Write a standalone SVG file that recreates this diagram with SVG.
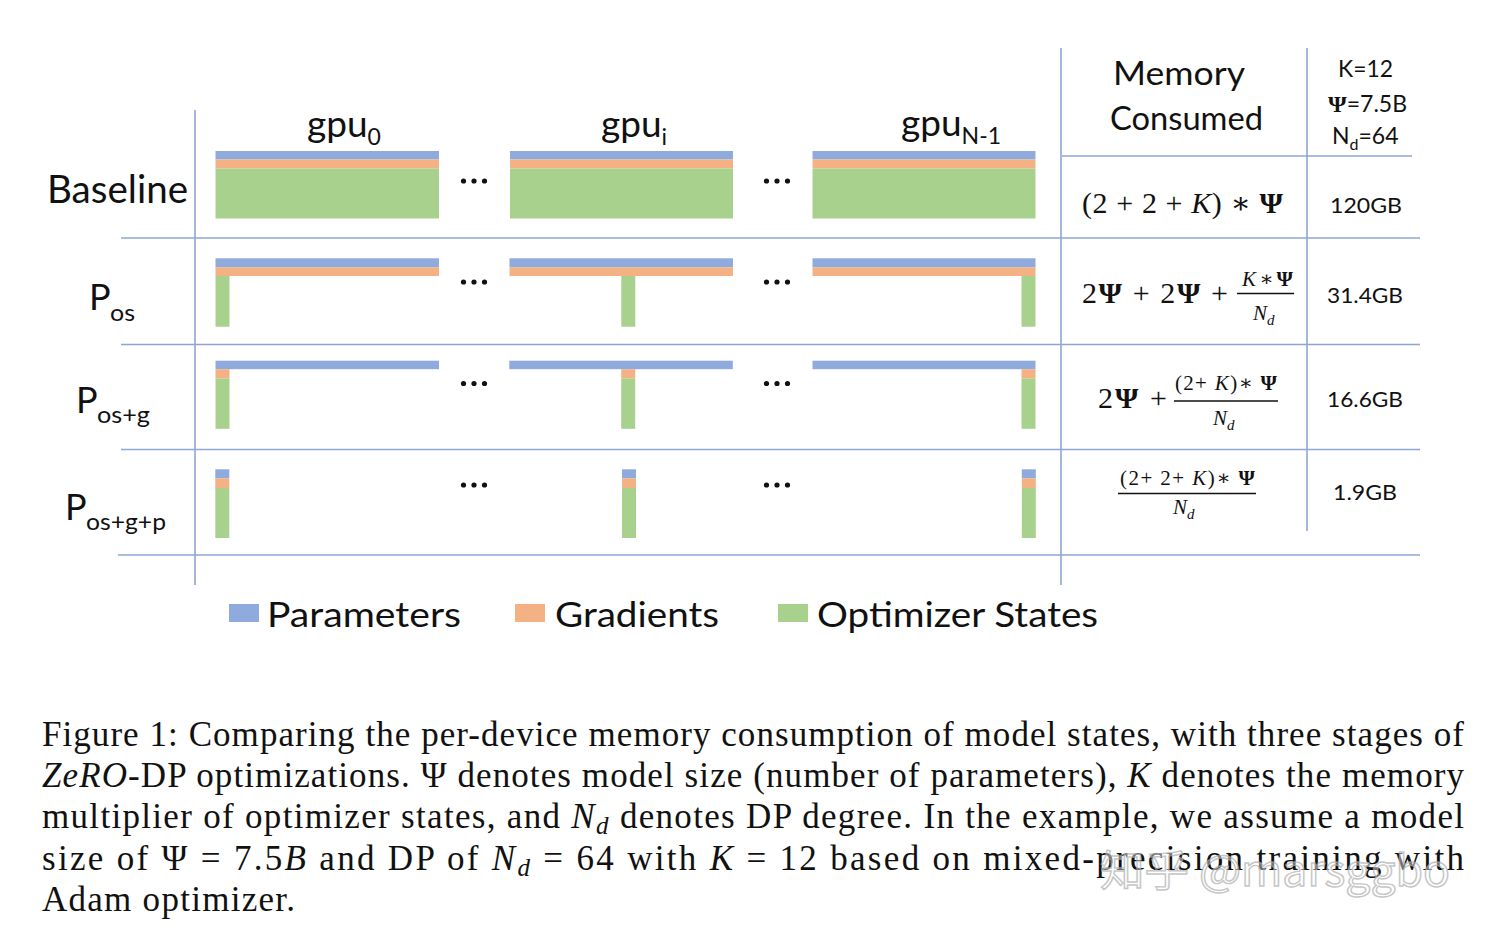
<svg xmlns="http://www.w3.org/2000/svg" width="1488" height="934" viewBox="0 0 1488 934">
<style>
.lbl{font-family:Lato,"Open Sans","Liberation Sans",sans-serif;fill:#111}
.math{font-family:"Liberation Serif","DejaVu Serif",serif;fill:#111}
.cap{font-family:"Liberation Serif","DejaVu Serif",serif;fill:#111;font-size:35px}
.it{font-style:italic}
.bf{font-weight:bold}
.pa{fill:#8FAADC}
.gr{fill:#F4B183}
.os{fill:#A9D18E}
.ln{stroke:#8EA6D4;stroke-width:1.6;fill:none}
.bar{stroke:#111;stroke-width:1.4}
.dot{fill:#111}
</style>
<rect width="1488" height="934" fill="#fff"/>

<g id="connectors">
<line class="ln" x1="195" y1="110" x2="195" y2="585"/>
<line class="ln" x1="1061" y1="48" x2="1061" y2="585"/>
<line class="ln" x1="1307" y1="48" x2="1307" y2="531"/>
<line class="ln" x1="1062" y1="156" x2="1412" y2="156"/>
<line class="ln" x1="121" y1="238" x2="1420" y2="238"/>
<line class="ln" x1="121" y1="344.5" x2="1420" y2="344.5"/>
<line class="ln" x1="121" y1="449.5" x2="1420" y2="449.5"/>
<line class="ln" x1="118" y1="555" x2="1420" y2="555"/>
</g>

<g id="headers">
<text class="lbl" x="307" y="137" font-size="37">gpu<tspan font-size="23" dy="8">0</tspan></text>
<text class="lbl" x="601" y="137" font-size="37">gpu<tspan font-size="23" dy="8">i</tspan></text>
<text class="lbl" x="901" y="136" font-size="37">gpu<tspan font-size="23" dy="8">N-1</tspan></text>
</g>

<g id="row-labels">
<text class="lbl" x="47" y="203" font-size="39" textLength="141" lengthAdjust="spacingAndGlyphs">Baseline</text>
<g id="label-pos"><text class="lbl" x="89" y="310" font-size="36">P</text><text class="lbl" x="110" y="321" font-size="23" textLength="25" lengthAdjust="spacingAndGlyphs">os</text></g>
<g id="label-posg"><text class="lbl" x="76" y="412.5" font-size="36">P</text><text class="lbl" x="97" y="423" font-size="23" textLength="53" lengthAdjust="spacingAndGlyphs">os+g</text></g>
<g id="label-posgp"><text class="lbl" x="65" y="520" font-size="36">P</text><text class="lbl" x="86" y="530" font-size="23" textLength="80" lengthAdjust="spacingAndGlyphs">os+g+p</text></g>
</g>

<g id="row-baseline">
<g id="b-gpu0"><rect class="pa" x="215.5" y="151" width="223.5" height="8.5"/><rect class="gr" x="215.5" y="159.5" width="223.5" height="9"/><rect class="os" x="215.5" y="168.5" width="223.5" height="50"/></g>
<g id="b-gpui"><rect class="pa" x="510" y="151" width="223" height="8.5"/><rect class="gr" x="510" y="159.5" width="223" height="9"/><rect class="os" x="510" y="168.5" width="223" height="50"/></g>
<g id="b-gpun"><rect class="pa" x="812.5" y="151" width="223" height="8.5"/><rect class="gr" x="812.5" y="159.5" width="223" height="9"/><rect class="os" x="812.5" y="168.5" width="223" height="50"/></g>
</g>

<g id="row-pos">
<g id="os-gpu0"><rect class="pa" x="215.5" y="258.3" width="223.5" height="9"/><rect class="gr" x="215.5" y="267.3" width="223.5" height="8.7"/><rect class="os" x="215.5" y="276" width="14" height="50.7"/></g>
<g id="os-gpui"><rect class="pa" x="509.5" y="258.3" width="223.5" height="9"/><rect class="gr" x="509.5" y="267.3" width="223.5" height="8.7"/><rect class="os" x="621.3" y="276" width="14" height="50.7"/></g>
<g id="os-gpun"><rect class="pa" x="812.5" y="258.3" width="223" height="9"/><rect class="gr" x="812.5" y="267.3" width="223" height="8.7"/><rect class="os" x="1021.5" y="276" width="14" height="50.7"/></g>
</g>

<g id="row-posg">
<g id="osg-gpu0"><rect class="pa" x="215.5" y="360.7" width="223.5" height="8.5"/><rect class="gr" x="215.5" y="369.2" width="14" height="9.2"/><rect class="os" x="215.5" y="378.4" width="14" height="50.4"/></g>
<g id="osg-gpui"><rect class="pa" x="509.3" y="360.7" width="223.5" height="8.5"/><rect class="gr" x="621.2" y="369.2" width="14" height="9.2"/><rect class="os" x="621.2" y="378.4" width="14" height="50.4"/></g>
<g id="osg-gpun"><rect class="pa" x="812.5" y="360.7" width="223" height="8.5"/><rect class="gr" x="1021.5" y="369.2" width="14" height="9.2"/><rect class="os" x="1021.5" y="378.4" width="14" height="50.4"/></g>
</g>

<g id="row-posgp">
<g id="osgp-gpu0"><rect class="pa" x="215.3" y="469.3" width="14" height="9"/><rect class="gr" x="215.3" y="478.3" width="14" height="9.7"/><rect class="os" x="215.3" y="488" width="14" height="50"/></g>
<g id="osgp-gpui"><rect class="pa" x="622" y="469.3" width="14" height="9"/><rect class="gr" x="622" y="478.3" width="14" height="9.7"/><rect class="os" x="622" y="488" width="14" height="50"/></g>
<g id="osgp-gpun"><rect class="pa" x="1021.8" y="469.3" width="14" height="9"/><rect class="gr" x="1021.8" y="478.3" width="14" height="9.7"/><rect class="os" x="1021.8" y="488" width="14" height="50"/></g>
</g>

<g id="ellipses">
<circle class="dot" cx="463.5" cy="181" r="2.6"/><circle class="dot" cx="474" cy="181" r="2.6"/><circle class="dot" cx="484.5" cy="181" r="2.6"/>
<circle class="dot" cx="766.5" cy="181" r="2.6"/><circle class="dot" cx="777" cy="181" r="2.6"/><circle class="dot" cx="787.5" cy="181" r="2.6"/>
<circle class="dot" cx="463.5" cy="282" r="2.6"/><circle class="dot" cx="474" cy="282" r="2.6"/><circle class="dot" cx="484.5" cy="282" r="2.6"/>
<circle class="dot" cx="766.5" cy="282" r="2.6"/><circle class="dot" cx="777" cy="282" r="2.6"/><circle class="dot" cx="787.5" cy="282" r="2.6"/>
<circle class="dot" cx="463.5" cy="383.5" r="2.6"/><circle class="dot" cx="474" cy="383.5" r="2.6"/><circle class="dot" cx="484.5" cy="383.5" r="2.6"/>
<circle class="dot" cx="766.5" cy="383.5" r="2.6"/><circle class="dot" cx="777" cy="383.5" r="2.6"/><circle class="dot" cx="787.5" cy="383.5" r="2.6"/>
<circle class="dot" cx="463.5" cy="485" r="2.6"/><circle class="dot" cx="474" cy="485" r="2.6"/><circle class="dot" cx="484.5" cy="485" r="2.6"/>
<circle class="dot" cx="766.5" cy="485" r="2.6"/><circle class="dot" cx="777" cy="485" r="2.6"/><circle class="dot" cx="787.5" cy="485" r="2.6"/>
</g>

<g id="table-header">
<text class="lbl" x="1113" y="85" font-size="32" textLength="132" lengthAdjust="spacingAndGlyphs">Memory</text>
<text class="lbl" x="1110" y="130" font-size="32" textLength="153" lengthAdjust="spacingAndGlyphs">Consumed</text>
<text class="lbl" x="1338" y="77" font-size="23" textLength="55" lengthAdjust="spacingAndGlyphs">K=12</text>
<text class="lbl" x="1328" y="111.5" font-size="23"><tspan class="math bf" font-size="24">Ψ</tspan><tspan>=7.5B</tspan></text>
<text class="lbl" x="1332" y="143.5" font-size="23">N<tspan font-size="16" dy="6">d</tspan><tspan dy="-6">=64</tspan></text>
</g>

<g id="formula-baseline">
<text class="math" x="1082" y="213" font-size="30" textLength="201" lengthAdjust="spacing">(2 + 2 + <tspan class="it">K</tspan>) ∗ <tspan class="bf">Ψ</tspan></text>
<text class="lbl" x="1330" y="213" font-size="22" textLength="72" lengthAdjust="spacingAndGlyphs">120GB</text>
</g>

<g id="formula-pos">
<text class="math" x="1082" y="303" font-size="30" textLength="146" lengthAdjust="spacing">2<tspan class="bf">Ψ</tspan> + 2<tspan class="bf">Ψ</tspan> +</text>
<text class="math" x="1242" y="285.5" font-size="21" textLength="51" lengthAdjust="spacing"><tspan class="it">K</tspan> ∗ <tspan class="bf">Ψ</tspan></text>
<line class="bar" x1="1237" y1="293.5" x2="1294" y2="293.5"/>
<text class="math it" x="1253" y="320" font-size="21">N<tspan font-size="15" dy="5">d</tspan></text>
<text class="lbl" x="1327" y="303" font-size="22" textLength="76" lengthAdjust="spacingAndGlyphs">31.4GB</text>
</g>

<g id="formula-posg">
<text class="math" x="1098" y="408" font-size="30" textLength="69" lengthAdjust="spacing">2<tspan class="bf">Ψ</tspan> +</text>
<text class="math" x="1175" y="390" font-size="21" textLength="102" lengthAdjust="spacing">(2+ <tspan class="it">K</tspan>)∗ <tspan class="bf">Ψ</tspan></text>
<line class="bar" x1="1174" y1="401" x2="1278" y2="401"/>
<text class="math it" x="1213" y="425" font-size="21">N<tspan font-size="15" dy="5">d</tspan></text>
<text class="lbl" x="1327" y="407" font-size="22" textLength="76" lengthAdjust="spacingAndGlyphs">16.6GB</text>
</g>

<g id="formula-posgp">
<text class="math" x="1120" y="485" font-size="21" textLength="135" lengthAdjust="spacing">(2+ 2+ <tspan class="it">K</tspan>)∗ <tspan class="bf">Ψ</tspan></text>
<line class="bar" x1="1118" y1="493.5" x2="1256" y2="493.5"/>
<text class="math it" x="1173" y="514" font-size="21">N<tspan font-size="15" dy="5">d</tspan></text>
<text class="lbl" x="1333" y="500" font-size="22" textLength="64" lengthAdjust="spacingAndGlyphs">1.9GB</text>
</g>

<g id="legend">
<rect class="pa" x="229" y="604" width="30" height="18"/>
<text class="lbl" x="267" y="627" font-size="35" textLength="194" lengthAdjust="spacingAndGlyphs">Parameters</text>
<rect class="gr" x="515" y="604" width="30" height="18"/>
<text class="lbl" x="555" y="627" font-size="35" textLength="164" lengthAdjust="spacingAndGlyphs">Gradients</text>
<rect class="os" x="778" y="604" width="30" height="18"/>
<text class="lbl" x="817" y="627" font-size="35" textLength="281" lengthAdjust="spacingAndGlyphs">Optimizer States</text>
</g>

<g id="caption">
<text class="cap" x="42" y="746" textLength="1422" lengthAdjust="spacing">Figure 1: Comparing the per-device memory consumption of model states, with three stages of</text>
<text class="cap" x="42" y="787" textLength="1422" lengthAdjust="spacing"><tspan class="it">ZeRO</tspan>-DP optimizations.  Ψ denotes model size (number of parameters), <tspan class="it">K</tspan> denotes the memory</text>
<text class="cap" x="42" y="828" textLength="1422" lengthAdjust="spacing">multiplier of optimizer states, and <tspan class="it">N</tspan><tspan class="it" font-size="25" dy="6">d</tspan><tspan dy="-6"> denotes DP degree. In the example, we assume a model</tspan></text>
<text class="cap" x="42" y="870" textLength="1422" lengthAdjust="spacing">size of Ψ = 7.5<tspan class="it">B</tspan> and DP of <tspan class="it">N</tspan><tspan class="it" font-size="25" dy="6">d</tspan><tspan dy="-6"> = 64 with </tspan><tspan class="it">K</tspan> = 12 based on mixed-precision training with</text>
<text class="cap" x="42" y="911" textLength="253" lengthAdjust="spacing">Adam optimizer.</text>
</g>

<g id="watermark" opacity="0.75">
<text x="1100" y="886" font-family="'Noto Sans CJK SC','Noto Sans',sans-serif" font-size="42" fill="#ffffff" fill-opacity="0.55" stroke="#b4b4b4" stroke-width="1.4" textLength="350" lengthAdjust="spacingAndGlyphs">知乎 @marsggbo</text>
</g>
</svg>
